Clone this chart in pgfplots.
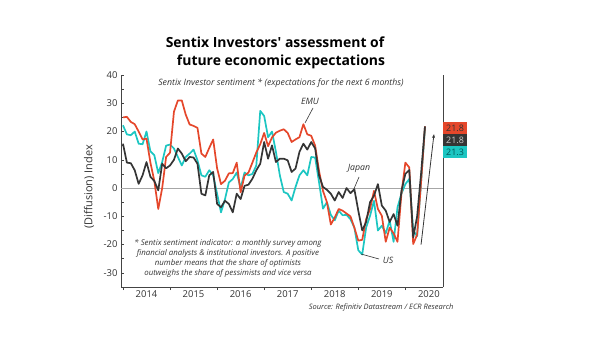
\documentclass[border=0pt]{standalone}
\usepackage{pgfplots}
\pgfplotsset{compat=1.18}
\usepackage{pgfplotstable}
\usetikzlibrary{arrows.meta}
\usepackage{fontspec}
\setmainfont{Open Sans}
\definecolor{emu}{HTML}{E5472B}
\definecolor{jp}{HTML}{353535}
\definecolor{us}{HTML}{1CC6C2}
\definecolor{axgray}{HTML}{444444}
\definecolor{txt}{HTML}{333333}

\pgfplotstableread{
m emu jp us
0 25.0 15.7 22.2
1 25.2 9.0 19.0
2 23.4 8.8 18.7
3 22.6 6.3 20.0
4 20.0 1.5 15.7
5 17.2 4.5 15.5
6 17.5 9.2 20.0
7 9.0 4.0 13.0
8 2.5 2.5 11.6
9 -7.4 -0.8 5.3
10 0.0 8.6 9.2
11 11.0 7.0 15.0
12 12.5 8.0 15.4
13 27.0 10.0 14.0
14 31.0 14.0 11.0
15 31.0 12.2 8.0
16 26.0 9.5 11.0
17 22.5 11.0 12.2
18 22.0 10.8 13.6
19 21.3 8.6 9.8
20 12.2 -2.0 4.5
21 11.0 -2.6 4.0
22 14.2 4.5 6.3
23 17.2 5.7 4.5
24 7.0 -5.6 -2.0
25 1.4 -6.8 -8.6
26 2.6 -4.5 -4.0
27 5.2 -5.6 2.0
28 5.3 -8.6 3.2
29 9.0 -2.0 5.5
30 -1.5 -3.9 0.0
31 4.4 0.8 5.5
32 5.5 1.2 4.5
33 9.0 3.3 5.0
34 12.6 6.3 8.0
35 15.5 8.6 27.3
36 19.5 16.3 25.5
37 14.8 10.4 18.0
38 17.9 15.1 20.0
39 19.6 9.2 12.8
40 20.3 10.4 4.5
41 20.8 10.4 -1.4
42 19.5 9.8 -2.0
43 16.3 5.7 -4.4
44 17.2 6.9 0.4
45 18.0 12.8 4.5
46 22.6 15.7 6.3
47 19.0 13.6 4.5
48 18.5 16.3 11.0
49 15.0 14.0 10.8
50 6.0 4.5 2.0
51 -1.0 0.4 -7.3
52 -5.0 -0.6 -5.0
53 -12.9 -2.0 -9.5
54 -10.4 -4.4 -11.4
55 -7.4 -1.4 -8.0
56 -8.0 -3.5 -9.6
57 -9.0 0.0 -9.5
58 -10.0 -1.8 -11.0
59 -14.0 -0.4 -14.0
60 -18.6 -8.0 -22.0
61 -18.3 -15.0 -23.5
62 -11.0 -12.0 -14.0
63 -7.4 -5.0 -9.8
64 -1.0 -2.7 -4.5
65 -7.4 1.4 -15.0
66 -9.8 -6.2 -13.3
67 -19.0 -8.0 -16.0
68 -14.0 -12.0 -11.5
69 -16.0 -9.2 -19.0
70 -19.0 -13.3 -6.8
71 -2.0 -1.0 -2.0
72 9.0 5.0 1.4
73 7.3 6.4 3.2
74 -19.8 -17.5 -15.0
75 -16.5 -10.0 -17.0
76 2.0 5.0 2.0
77 21.8 21.8 21.3
}\data

\begin{document}
\begin{tikzpicture}[x=1bp,y=1bp]
\path[use as bounding box] (0,0) rectangle (600,362);
\begin{axis}[
  at={(121bp,75bp)}, anchor=south west,
  width=322bp, height=212bp, scale only axis,
  xmin=-0.5, xmax=81.6, ymin=-35, ymax=40,
  axis x line*=bottom, axis y line*=left,
  axis line style={axgray, line width=0.8bp},
  tick align=inside,
  ytick={-30,-20,...,40},
  yticklabels={-30,-20,-10,0,10,20,30,40},
  minor ytick={-35,-25,...,35},
  xtick={6,18,...,78},
  xticklabels={2014,2015,2016,2017,2018,2019,2020},
  minor xtick={0,12,...,72},
  major x tick style={draw=none},
  minor x tick style={yshift=-3bp},
  major tick length=3bp, minor tick length=3bp,
  every tick/.style={axgray, line width=0.6bp},
  tick label style={font=\fontsize{9.5}{11}\selectfont, text=txt},
  /pgf/number format/assume math mode=true,
  clip=false,
]
\draw[gray!70, line width=1bp] (axis cs:-0.5,0) -- (axis cs:81.6,0);
\draw[axgray, line width=0.8bp] (rel axis cs:1,0) -- (rel axis cs:1,1);
\addplot[us, line width=1.7bp, line join=round] table[x=m, y=us] {\data};
\addplot[emu, line width=1.7bp, line join=round] table[x=m, y=emu] {\data};
\addplot[jp, line width=1.7bp, line join=round] table[x=m, y=jp] {\data};
\draw[-{Stealth[length=4bp,width=3bp]}, jp, line width=0.8bp] (axis cs:76,-20) -- (axis cs:79.3,19.1);
\end{axis}
% titles
\node[font=\fontsize{14}{16}\bfseries\selectfont, text=black] at (275,320) {Sentix Investors\textquotesingle\ assessment of};
\node[font=\fontsize{14}{16}\bfseries\selectfont, text=black] at (281,300) {future economic expectations};
\node[font=\fontsize{8.8}{10}\itshape\selectfont, text=txt] at (281,279) {Sentix Investor sentiment * (expectations for the next 6 months)};
% y label
\node[rotate=90, font=\fontsize{11}{13}\selectfont, text=txt] at (89,175) {(Diffusion) Index};
% series labels
\node[font=\fontsize{8.8}{10}\itshape\selectfont, text=txt] at (310,261) {EMU};
\draw[txt, line width=0.6bp] (313,254) -- (305,239);
\node[font=\fontsize{8.8}{10}\itshape\selectfont, text=txt] at (359,194) {Japan};
\draw[txt, line width=0.6bp] (359,185) -- (353,171);
\node[font=\fontsize{8.8}{10}\itshape\selectfont, text=txt] at (388,102) {US};
\draw[txt, line width=0.6bp] (379,103) -- (361,108);
% footnote
\node[font=\fontsize{7.9}{10}\itshape\selectfont, text=txt, align=center] at (228,104) {* Sentix sentiment indicator: a monthly survey among\\financial analysts \& institutional investors. A positive\\number means that the share of optimists\\outweighs the share of pessimists and vice versa};
% source
\node[font=\fontsize{7.5}{9}\itshape\selectfont, text=txt, anchor=east] at (457,54) {Source: Refinitiv Datastream / ECR Research};
% value boxes
\fill[emu] (443,228) rectangle (467,240);
\fill[jp] (443,216) rectangle (467,228);
\fill[us] (443,204) rectangle (467,216);
\node[font=\fontsize{9}{10}\selectfont, text=txt] at (455,234) {21.8};
\node[font=\fontsize{9}{10}\selectfont, text=gray!40] at (455,222) {21.8};
\node[font=\fontsize{9}{10}\selectfont, text=teal!70!black] at (455,210) {21.3};
\end{tikzpicture}
\end{document}
